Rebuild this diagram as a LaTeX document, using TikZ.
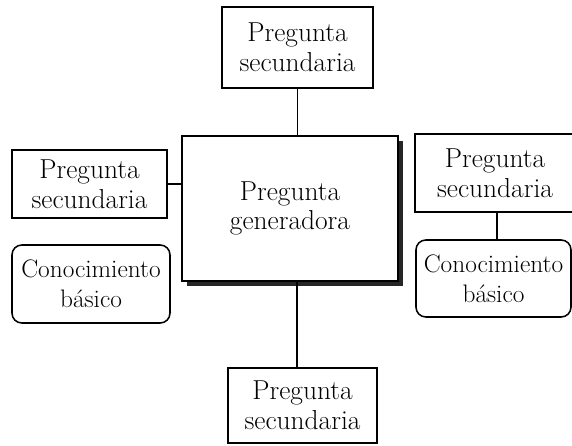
\documentclass[tikz,border=0pt]{standalone}
\usepackage{tikz}
\usetikzlibrary{shadows}

\begin{document}
\begin{tikzpicture}[x=0.025cm, y=-0.025cm,
        secbox/.style={draw, line width=1.1pt, rectangle, align=center, inner sep=0pt,
                font=\fontsize{19.5}{21}\selectfont},
        kbbox/.style={secbox, rounded corners=7pt, font=\fontsize{18}{21}\selectfont},
        genbox/.style={secbox, drop shadow={shadow xshift=0.12cm, shadow yshift=-0.12cm,
                fill=black!85, opacity=1}, fill=white}]
        \useasboundingbox (0,0) rectangle (572,446);
        \node[genbox, minimum width=216*0.025cm, minimum height=145*0.025cm] (gen) at (290,208.5) {Pregunta\\generadora};
        \node[secbox, minimum width=151*0.025cm, minimum height=81*0.025cm] (sec_top) at (297.5,47.5) {Pregunta\\secundaria};
        \node[secbox, minimum width=155*0.025cm, minimum height=68*0.025cm] (sec_left) at (89.5,184) {Pregunta\\secundaria};
        \node[kbbox, minimum width=158*0.025cm, minimum height=78*0.025cm] (kb_left) at (91,284) {Conocimiento\\básico};
        \node[secbox, minimum width=160*0.025cm, minimum height=78*0.025cm] (sec_right) at (495,173) {Pregunta\\secundaria};
        \node[kbbox, minimum width=155*0.025cm, minimum height=77*0.025cm] (kb_right) at (493.5,278.5) {Conocimiento\\básico};
        \node[secbox, minimum width=149*0.025cm, minimum height=75*0.025cm] (sec_bot) at (302.5,405.5) {Pregunta\\secundaria};
        % connectors
        \draw[line width=1.1pt] (sec_top.south) -- (sec_top.south |- gen.north);
        \draw[line width=1.1pt] (sec_left.east) -- (sec_left.east -| gen.west);
        \draw[line width=1.1pt] ([xshift=0.05cm]sec_right.south) -- ([xshift=0.05cm]sec_right.south |- kb_right.north);
        \draw[line width=1.1pt] ([xshift=-0.14cm]sec_bot.north) -- ([xshift=-0.14cm]sec_bot.north |- gen.south);
\end{tikzpicture}
\end{document}
